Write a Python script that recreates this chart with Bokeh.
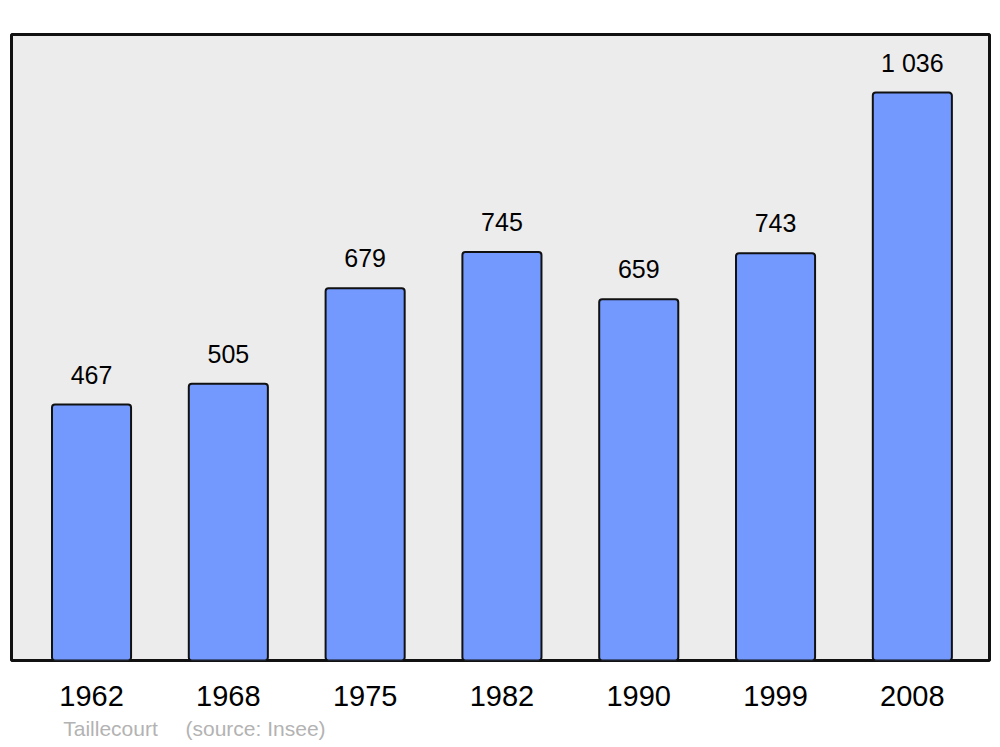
from bokeh.plotting import figure
from bokeh.models import ColumnDataSource, FixedTicker, LinearAxis, Range1d
from bokeh.core.properties import value
from bokeh.embed import file_html
from bokeh.resources import INLINE

years = ["1962", "1968", "1975", "1982", "1990", "1999", "2008"]
population = [467, 505, 679, 745, 659, 743, 1036]
value_labels = ["467", "505", "679", "745", "659", "743", "1 036"]
town = "Taillecourt"
source_note = "(source: Insee)"

xs = list(range(len(years)))
src = ColumnDataSource(dict(x=xs, top=population, lab=value_labels))

p = figure(width=1000, height=747, output_backend="svg", toolbar_location=None,
           x_range=Range1d(-0.585, 6.564), y_range=Range1d(0, 1142),
           min_border_left=11, min_border_right=11, min_border_top=34, min_border_bottom=87)
p.background_fill_color = "#ececec"
p.border_fill_color = "white"
p.outline_line_color = "#111111"
p.outline_line_width = 3
p.xgrid.visible = False
p.ygrid.visible = False
p.yaxis.visible = False

p.vbar(x="x", top="top", bottom=0, width=0.578, source=src,
       fill_color="#7399ff", line_color="#111111", line_width=2, border_radius=3)
p.text(x="x", y="top", text="lab", source=src, text_align="center",
       text_baseline="alphabetic", y_offset=-30, text_font=value("Liberation Sans"),
       text_font_size="25px", text_color="black")

ax = p.xaxis[0]
ax.ticker = FixedTicker(ticks=xs)
ax.major_label_overrides = {i: y for i, y in zip(xs, years)}
ax.axis_line_color = None
ax.major_tick_line_color = None
ax.minor_tick_line_color = None
ax.major_label_standoff = 19
ax.major_label_text_font = "Liberation Sans"
ax.major_label_text_font_size = "29px"
ax.major_label_text_color = "black"

# source note as a second, tick-less axis below the year labels
note_pos = [0.139, 1.199]
ax2 = LinearAxis(ticker=FixedTicker(ticks=note_pos),
                 major_label_overrides={note_pos[0]: town, note_pos[1]: source_note})
ax2.axis_line_color = None
ax2.major_tick_line_color = None
ax2.minor_tick_line_color = None
ax2.major_label_standoff = 2
ax2.major_label_text_font = "Liberation Sans"
ax2.major_label_text_font_size = "21px"
ax2.major_label_text_color = "#b3b3b3"
p.add_layout(ax2, "below")

open("out.html", "w").write(file_html(p, INLINE))
